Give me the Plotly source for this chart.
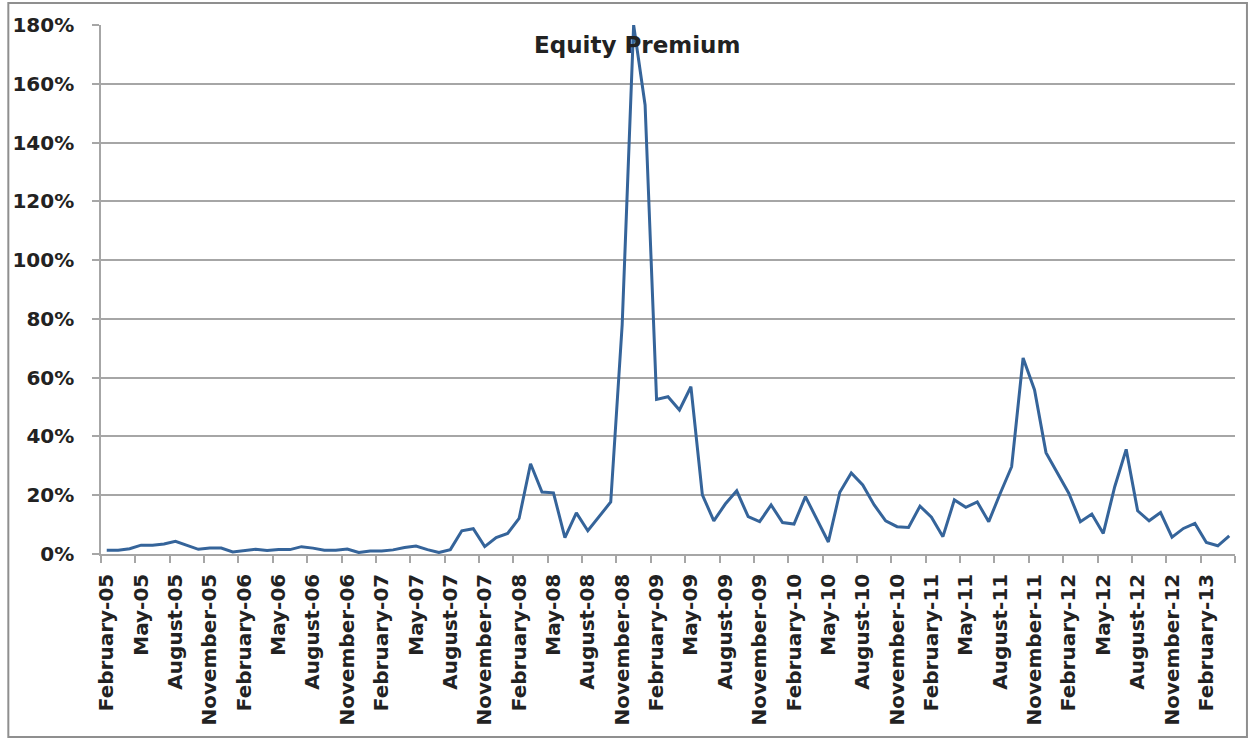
import pandas as pd
import plotly.graph_objects as go

# Monthly observations, February 2005 - April 2013
start_month = "2005-02-01"
equity_premium_pct = [
    1.3, 1.3, 1.8, 3.0, 3.0, 3.4, 4.3, 3.0, 1.6, 2.0, 2.0, 0.7,
    1.2, 1.6, 1.2, 1.5, 1.5, 2.5, 2.0, 1.3, 1.3, 1.7, 0.5, 1.0,
    1.0, 1.4, 2.2, 2.7, 1.5, 0.5, 1.5, 7.9, 8.6, 2.5, 5.6, 7.0,
    12.1, 30.7, 21.1, 20.8, 5.6, 14.0, 7.9, 12.9, 17.7, 78.0, 180.0, 152.8,
    52.6, 53.5, 49.0, 56.9, 20.1, 11.3, 17.0, 21.5, 12.7, 11.0, 16.7, 10.7,
    10.2, 19.5, 11.8, 4.1, 21.0, 27.6, 23.5, 16.7, 11.3, 9.3, 9.0, 16.3,
    12.5, 5.9, 18.4, 15.9, 17.7, 11.0, 20.6, 29.7, 66.7, 55.8, 34.5, 27.5,
    20.6, 11.0, 13.6, 7.0, 22.9, 35.6, 14.7, 11.3, 14.1, 5.7, 8.7, 10.4,
    3.9, 2.8, 6.2,
]
months = pd.date_range(start_month, periods=len(equity_premium_pct), freq="MS")
month_labels = [f"{m.strftime('%B')}-{m.strftime('%y')}" for m in months]
label_step = 3
y_ticks = list(range(0, 181, 20))

W, H = 1250, 740
ML, MR, MT, MB = 97, 15, 25, 186
TEXT = "#222222"
GRID = "#a6a6a6"
FONT = "DejaVu Sans"

idx = list(range(len(month_labels)))
tick_idx = idx[::label_step]

fig = go.Figure()
fig.add_trace(go.Scatter(
    x=idx,
    y=equity_premium_pct,
    mode="lines",
    line=dict(color="#35649a", width=3),
    name="Equity Premium",
    showlegend=False,
))

fig.update_layout(
    width=W,
    height=H,
    margin=dict(l=ML, r=MR, t=MT, b=MB),
    paper_bgcolor="white",
    plot_bgcolor="white",
    font=dict(family=FONT, color=TEXT),
    showlegend=False,
)

fig.update_xaxes(
    range=[-0.5, len(idx) - 0.5],
    tickmode="array",
    tickvals=tick_idx,
    ticktext=[month_labels[i] for i in tick_idx],
    tickangle=-90,
    ticks="",
    ticklabelstandoff=10,
    tickfont=dict(family=FONT, size=20, color=TEXT, weight="bold"),
    showgrid=False,
    showline=True,
    linecolor=GRID,
    linewidth=1.5,
    zeroline=False,
    minor=dict(
        tickmode="linear",
        tick0=-0.5,
        dtick=label_step,
        ticks="outside",
        ticklen=7,
        tickwidth=1.5,
        tickcolor=GRID,
        showgrid=False,
    ),
)

fig.update_yaxes(
    range=[0, 180],
    tickmode="array",
    tickvals=y_ticks,
    ticktext=[f"{v}%" for v in y_ticks],
    ticks="outside",
    ticklen=7,
    tickwidth=1.5,
    tickcolor=GRID,
    ticklabelstandoff=14,
    tickfont=dict(family=FONT, size=20, color=TEXT, weight="bold"),
    showgrid=True,
    gridcolor=GRID,
    gridwidth=1.5,
    showline=True,
    linecolor=GRID,
    linewidth=1.5,
    zeroline=False,
)

# Chart title placed inside the plotting area
fig.add_annotation(
    text="Equity Premium",
    xref="paper", yref="paper",
    x=(635 - ML) / (W - ML - MR),
    y=(H - MB - 45) / (H - MT - MB),
    xanchor="center", yanchor="middle",
    showarrow=False,
    font=dict(family=FONT, size=23, color=TEXT, weight="bold"),
)

# Outer chart frame
pw, ph = W - ML - MR, H - MT - MB
fig.add_shape(
    type="rect",
    xref="paper", yref="paper",
    x0=(4 - ML) / pw, x1=(W - 3 - ML) / pw,
    y0=(H - MB - (H - 3)) / ph, y1=(H - MB - 3) / ph,
    line=dict(color="#8f8f8f", width=2),
    fillcolor="rgba(0,0,0,0)",
    layer="below",
)

fig.write_html("out.html")
